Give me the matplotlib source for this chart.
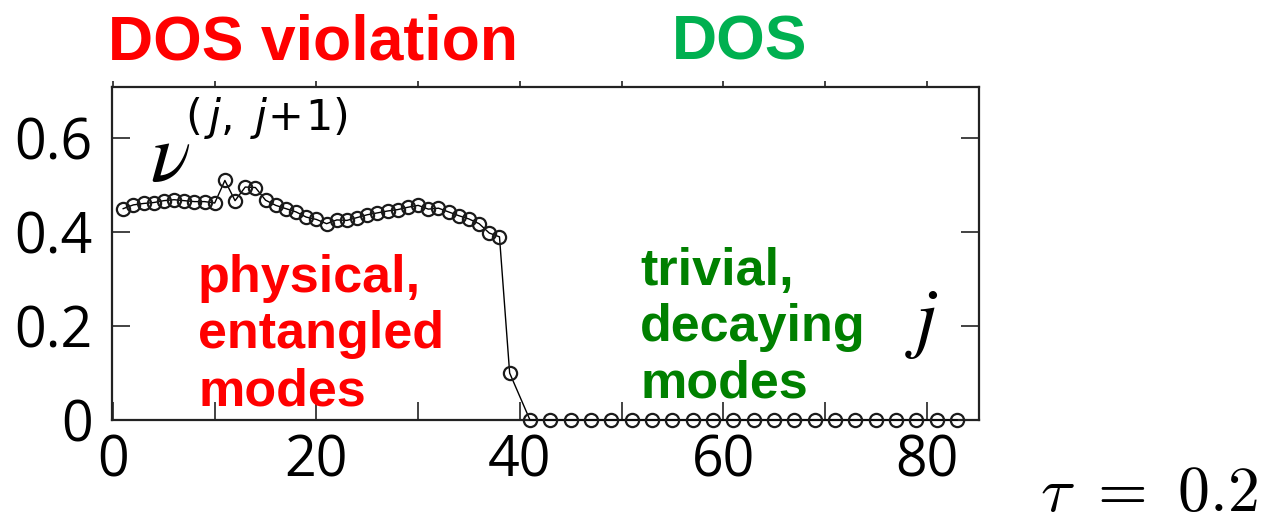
import matplotlib
matplotlib.use("Agg")
import matplotlib.pyplot as plt
from matplotlib.ticker import MultipleLocator

# overlap nu^(j,j+1) for each mode pair j
j_phys = list(range(1, 40))
nu_phys = [0.450, 0.458, 0.461, 0.463, 0.467, 0.469, 0.467, 0.465, 0.465, 0.462,
           0.510, 0.467, 0.496, 0.495, 0.468, 0.457, 0.450, 0.443, 0.432, 0.427,
           0.418, 0.426, 0.425, 0.431, 0.437, 0.441, 0.445, 0.448, 0.453, 0.457,
           0.449, 0.451, 0.443, 0.435, 0.428, 0.418, 0.398, 0.390, 0.100]
j_triv = list(range(41, 84, 2))
nu_triv = [0.0] * len(j_triv)

j_all = j_phys + j_triv
nu_all = nu_phys + nu_triv

x_ticks = [0, 20, 40, 60, 80]
y_ticks = [0, 0.2, 0.4, 0.6]
y_labels = ["0", "0.2", "0.4", "0.6"]

W, H = 1273, 523
fig = plt.figure(figsize=(W / 100, H / 100), dpi=100)
ax = fig.add_axes([112 / W, 1 - 420 / H, 867 / W, 333 / H])

ax.plot(j_all, nu_all, color="black", lw=1.0, marker="o", ms=9.5,
        mfc="none", mec="#1a1a1a", mew=1.6, clip_on=False, zorder=3)

ax.set_xlim(-0.1, 85.15)
ax.set_ylim(0, 0.709)
ax.set_xticks(x_ticks)
ax.xaxis.set_minor_locator(MultipleLocator(10))
ax.set_yticks(y_ticks)
ax.set_yticklabels(y_labels)

for s in ax.spines.values():
    s.set_linewidth(1.6)
    s.set_color("#222222")

ax.tick_params(axis="both", which="both", direction="in", length=13, width=1.2,
               color="#222222", right=True, top=False)
ax.tick_params(axis="y", pad=14)
ax.tick_params(axis="x", pad=10)
for lab in ax.get_xticklabels() + ax.get_yticklabels():
    lab.set_fontfamily("Open Sans")
    lab.set_fontsize(40)

# short outward ticks along the top edge
top = ax.secondary_xaxis("top")
top.set_xticks(list(range(0, 90, 10)))
top.tick_params(direction="out", length=4, width=1.2, color="#222222", labeltop=False)
top.spines["top"].set_visible(False)

# axis symbols
plt.rcParams["mathtext.fontset"] = "stix"
fig.text(150 / W, 1 - 181 / H, r"$\nu$", fontsize=60, color="black", va="baseline")
fig.text(185 / W, 1 - 130 / H, r"$(\,j,\;j\!+\!1)$", fontsize=31, color="black",
         va="baseline", math_fontfamily="dejavusans")
fig.text(905 / W, 1 - 343 / H, r"$j$", fontsize=57, color="black", va="baseline")
fig.text(1040 / W, 1 - 511 / H, r"$\tau\ =\ 0.2$", fontsize=46, color="black",
         va="baseline", math_fontfamily="cm")

# region headings and labels
bold = dict(family="Liberation Sans", weight="bold")
fig.text(108 / W, 1 - 60 / H, "DOS violation", fontsize=45, color="#ff0000",
         va="baseline", **bold)
fig.text(672 / W, 1 - 60 / H, "DOS", fontsize=45, color="#00b050",
         va="baseline", **bold)
fig.text(198 / W, 1 - 405 / H, "physical,\nentangled\nmodes", fontsize=37.5,
         color="#ff0000", va="baseline", linespacing=1.2, **bold)
fig.text(640 / W, 1 - 398 / H, "trivial,\ndecaying\nmodes", fontsize=37.5,
         color="#008000", va="baseline", linespacing=1.2, **bold)

fig.savefig("out.png", dpi=100)
